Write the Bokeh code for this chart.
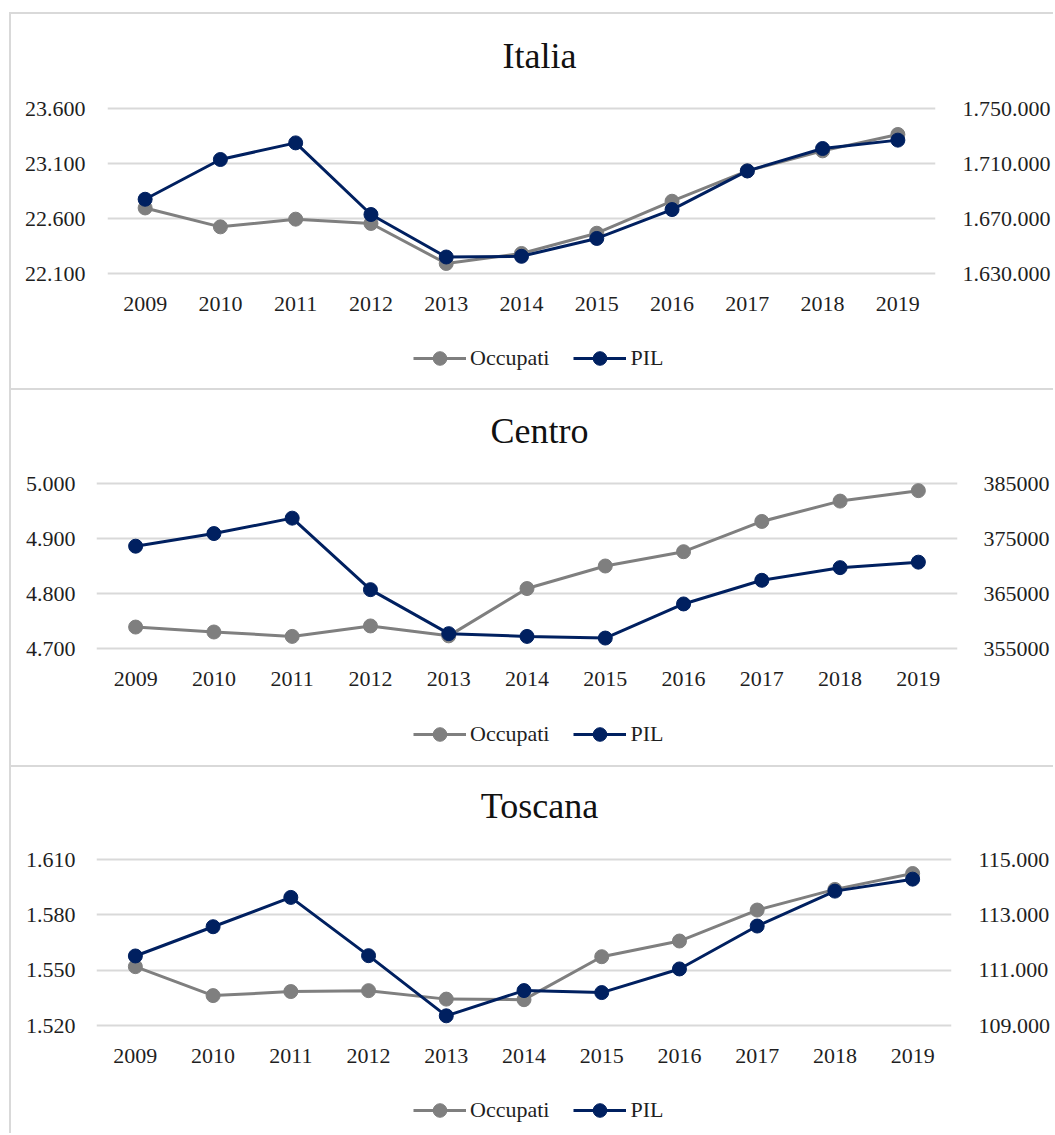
from bokeh.plotting import figure
from bokeh.models import (Range1d, FactorRange, LinearAxis, FixedTicker, Legend,
                          LegendItem, ColumnDataSource, Spacer, Label)
from bokeh.layouts import column, row
from bokeh.embed import file_html
from bokeh.resources import INLINE

years = ["2009", "2010", "2011", "2012", "2013", "2014", "2015", "2016", "2017", "2018", "2019"]

italia_occupati = [22696, 22524, 22594, 22555, 22191, 22282, 22466, 22757, 23033, 23215, 23364]
italia_pil = [1684000, 1712900, 1725000, 1672900, 1642000, 1642500, 1655500, 1676500, 1704600, 1720900, 1727000]
italia_left_ticks = [22100, 22600, 23100, 23600]
italia_left_labels = ["22.100", "22.600", "23.100", "23.600"]
italia_right_ticks = [1630000, 1670000, 1710000, 1750000]
italia_right_labels = ["1.630.000", "1.670.000", "1.710.000", "1.750.000"]

centro_occupati = [4739, 4730, 4722, 4741, 4723, 4809, 4850, 4876, 4931, 4968, 4987]
centro_pil = [373600, 375900, 378700, 365700, 357700, 357200, 356900, 363100, 367400, 369700, 370700]
centro_left_ticks = [4700, 4800, 4900, 5000]
centro_left_labels = ["4.700", "4.800", "4.900", "5.000"]
centro_right_ticks = [355000, 365000, 375000, 385000]
centro_right_labels = ["355000", "365000", "375000", "385000"]

toscana_occupati = [1551.9, 1536.2, 1538.4, 1538.9, 1534.3, 1534.0, 1557.3, 1565.8, 1582.6, 1593.8, 1602.4]
toscana_pil = [111513, 112570, 113630, 111524, 109350, 110262, 110190, 111044, 112595, 113857, 114290]
toscana_left_ticks = [1520, 1550, 1580, 1610]
toscana_left_labels = ["1.520", "1.550", "1.580", "1.610"]
toscana_right_ticks = [109000, 111000, 113000, 115000]
toscana_right_labels = ["109.000", "111.000", "113.000", "115.000"]

series_names = ["Occupati", "PIL"]

GRAY = "#7f7f7f"
NAVY = "#002060"
GRID = "#d9d9d9"
TEXT = "#1f1f1f"
FONT = "Liberation Serif"
W = 1044
PAD = 4
BORDER = "2px solid " + GRID
NAN = float("nan")


def padded(ticks, span_px):
    lo, hi = min(ticks), max(ticks)
    d = (hi - lo) * PAD / span_px
    return Range1d(lo - d, hi + d)


def blank_fig(h, styles):
    f = figure(x_range=Range1d(0, 1), y_range=Range1d(0, h), width=W, height=h,
               output_backend="svg", toolbar_location=None,
               x_axis_type=None, y_axis_type=None,
               min_border=0, min_border_left=0, min_border_right=0,
               min_border_top=0, min_border_bottom=0,
               background_fill_color="white", border_fill_color="white",
               styles=styles)
    f.grid.visible = False
    f.outline_line_color = None
    return f


def title_fig(text, tx, ty):
    f = blank_fig(68, {"border-top": BORDER, "border-left": BORDER})
    f.add_layout(Label(x=tx, y=ty, x_units="screen", y_units="data", text=text,
                       text_align="center", text_baseline="middle",
                       text_font=FONT, text_font_size="36px", text_color="#111111"))
    return f


def legend_fig(h, lx, ly):
    f = blank_fig(h, {"border-left": BORDER})
    src = ColumnDataSource(dict(x=[NAN], y=[NAN]))
    l1 = f.line("x", "y", source=src, line_color=GRAY, line_width=3)
    s1 = f.scatter("x", "y", source=src, size=14, fill_color=GRAY, line_color=GRAY)
    l2 = f.line("x", "y", source=src, line_color=NAVY, line_width=3)
    s2 = f.scatter("x", "y", source=src, size=14, fill_color=NAVY, line_color=NAVY)
    legend = Legend(items=[LegendItem(label=series_names[0], renderers=[l1, s1], index=0),
                           LegendItem(label=series_names[1], renderers=[l2, s2], index=0)],
                    orientation="horizontal", location=(lx, ly),
                    glyph_width=53, glyph_height=34, label_standoff=4, spacing=24,
                    padding=0, margin=0, border_line_alpha=0, background_fill_alpha=0,
                    label_text_font=FONT, label_text_font_size="22px",
                    label_text_color=TEXT)
    f.add_layout(legend)
    return f


def chart_fig(occ, pil, lt, ll, rt, rl, left, right, top, span, lstand, rstand):
    fh = span + 2 * PAD
    h = 250
    bottom = h - top - fh
    p = figure(x_range=FactorRange(factors=years, range_padding=0),
               y_range=padded(lt, span),
               width=W, height=h, output_backend="svg", toolbar_location=None,
               min_border_left=left, min_border_right=right,
               min_border_top=top, min_border_bottom=bottom,
               background_fill_color="white", border_fill_color="white",
               styles={"border-left": BORDER})
    p.extra_y_ranges = {"pil": padded(rt, span)}
    p.outline_line_color = None

    p.xgrid.visible = False
    p.ygrid.ticker = FixedTicker(ticks=lt)
    p.ygrid.grid_line_color = GRID
    p.ygrid.grid_line_width = 2

    for ax in (p.xaxis[0], p.yaxis[0]):
        ax.axis_line_color = None
        ax.major_tick_line_color = None
        ax.minor_tick_line_color = None
        ax.major_tick_out = 0
        ax.major_tick_in = 0
        ax.major_label_text_font = FONT
        ax.major_label_text_font_size = "22px"
        ax.major_label_text_color = TEXT
    p.xaxis.major_label_standoff = 19
    p.yaxis.ticker = FixedTicker(ticks=lt)
    p.yaxis.major_label_overrides = dict(zip(lt, ll))
    p.yaxis.major_label_standoff = lstand

    rax = LinearAxis(y_range_name="pil", ticker=FixedTicker(ticks=rt),
                     major_label_overrides=dict(zip(rt, rl)),
                     axis_line_color=None, major_tick_line_color=None,
                     minor_tick_line_color=None, major_tick_out=0, major_tick_in=0,
                     major_label_text_font=FONT, major_label_text_font_size="22px",
                     major_label_text_color=TEXT, major_label_standoff=rstand)
    p.add_layout(rax, "right")

    src = ColumnDataSource(dict(year=years, occ=occ, pil=pil))
    p.line("year", "occ", source=src, line_color=GRAY, line_width=3)
    p.scatter("year", "occ", source=src, size=14, fill_color=GRAY, line_color=GRAY)
    p.line("year", "pil", source=src, line_color=NAVY, line_width=3, y_range_name="pil")
    p.scatter("year", "pil", source=src, size=14, fill_color=NAVY, line_color=NAVY,
              y_range_name="pil")
    return p


# frame left edges on the page: panel 1 at 107, panels 2-3 at 96
c1 = chart_fig(italia_occupati, italia_pil, italia_left_ticks, italia_left_labels,
               italia_right_ticks, italia_right_labels,
               left=96, right=120, top=24, span=165, lstand=22, rstand=27)
c2 = chart_fig(centro_occupati, centro_pil, centro_left_ticks, centro_left_labels,
               centro_right_ticks, centro_right_labels,
               left=85, right=98, top=23, span=165, lstand=21, rstand=26)
c3 = chart_fig(toscana_occupati, toscana_pil, toscana_left_ticks, toscana_left_labels,
               toscana_right_ticks, toscana_right_labels,
               left=85, right=104, top=22, span=166, lstand=21, rstand=27)

panel1 = column(title_fig("Italia", 539 - 107, 27), c1, legend_fig(58, 413 - 107, 13), spacing=0)
panel2 = column(title_fig("Centro", 539 - 96, 28), c2, legend_fig(59, 413 - 96, 14), spacing=0)
panel3 = column(title_fig("Toscana", 539 - 96, 30), c3, legend_fig(50, 413 - 96, 6), spacing=0)

stack = column(panel1, panel2, panel3, spacing=0)

layout = column(Spacer(width=W + 9, height=12),
                row(Spacer(width=9, height=10), stack, spacing=0),
                spacing=0)

open("out.html", "w").write(file_html(layout, INLINE))
